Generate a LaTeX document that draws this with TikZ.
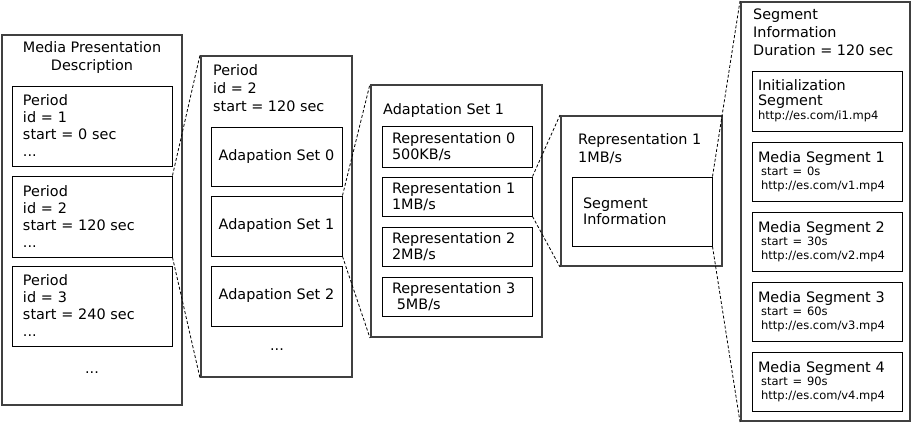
\documentclass[tikz,border=0pt]{standalone}
\usepackage{fontspec}
\setmainfont{DejaVu Sans}
\newcommand{\smallfnt}{\fontsize{11.5}{14}\selectfont}

\begin{document}
\begin{tikzpicture}[x=1pt,y=-1pt,
  font=\fontsize{14.4}{17}\selectfont,
  outer/.style={draw=black!75,line width=2pt,inner sep=0pt},
  boxwh/.style 2 args={minimum width=#1,minimum height=#2},
  inbox/.style 2 args={draw,line width=1pt,align=left,text width=#1,inner xsep=#2,inner ysep=0pt},
  title/.style={anchor=north west,inner sep=0pt,align=left,font=\fontsize{14.4}{18}\selectfont},
  link/.style={line width=0.8pt,dash pattern=on 3pt off 2pt}]
  \useasboundingbox (0,0) rectangle (912,423);

  % media presentation description
  \node[outer,boxwh={180}{370}] (mpd) at (92,220) {};
  \node[title,anchor=center,align=center] (mpdt) at (92,58) {Media Presentation\\Description};
  \node[inbox={138pt}{11pt},minimum height=80] (p1) at (92,126) {Period\\id = 1\\start = 0 sec\\...};
  \node[inbox={138pt}{11pt},minimum height=81] (p2) at (92,216.5) {Period\\id = 2\\start = 120 sec\\...};
  \node[inbox={138pt}{11pt},minimum height=80] (p3) at (92,306) {Period\\id = 3\\start = 240 sec\\...};
  \node (mpddots) at (92,373) {...};

  % period
  \node[outer,boxwh={151}{321}] (per) at (276.5,216.5) {};
  \node[title] (pert) at (213,64) {Period\\id = 2\\start = 120 sec};
  \node[inbox={117pt}{7pt},align=center,minimum height=59] (as0) at (276.5,156.5) {Adapation Set 0};
  \node[inbox={117pt}{7pt},align=center,minimum height=60] (as1) at (276.5,226) {Adapation Set 1};
  \node[inbox={117pt}{7pt},align=center,minimum height=60] (as2) at (276.5,296) {Adapation Set 2};
  \node (perdots) at (277,350) {...};

  % adaptation set
  \node[outer,boxwh={171}{252}] (aset) at (456.5,211) {};
  \node[title] (asett) at (383,103) {Adaptation Set 1};
  \node[inbox={130pt}{10pt},minimum height=41] (r0) at (457,146.5) {Representation 0\\[-1pt]500KB/s};
  \node[inbox={130pt}{10pt},minimum height=39] (r1) at (457,196.5) {Representation 1\\[-1pt]1MB/s};
  \node[inbox={130pt}{10pt},minimum height=39] (r2) at (457,246.5) {Representation 2\\[-1pt]2MB/s};
  \node[inbox={130pt}{10pt},minimum height=39] (r3) at (457,296.5) {Representation 3\\[-1pt]\ 5MB/s};

  % representation
  \node[outer,boxwh={161}{150}] (rep) at (641.5,191) {};
  \node[title] (rept) at (578,133) {Representation 1\\1MB/s};
  \node[inbox={118pt}{11pt},minimum height=69] (si) at (642,211.5) {Segment\\[-1pt]Information};

  % segment information
  \node[outer,boxwh={169}{419}] (seg) at (825.5,211.5) {};
  \node[title] (segt) at (753,9) {Segment\\Information\\Duration = 120 sec};
  \node[inbox={138pt}{6pt},minimum height=60] (init) at (827,101)
    {Initialization\\[-2pt]Segment\\[-3pt]{\smallfnt http://es.com/i1.mp4}};
  \node[inbox={138pt}{6pt},minimum height=59] (ms1) at (827,171.5)
    {Media Segment 1\\[-1pt]{\smallfnt\hspace*{3pt}start = 0s\\[-3pt]\hspace*{3pt}http://es.com/v1.mp4}};
  \node[inbox={138pt}{6pt},minimum height=59] (ms2) at (827,241.5)
    {Media Segment 2\\[-1pt]{\smallfnt\hspace*{3pt}start = 30s\\[-3pt]\hspace*{3pt}http://es.com/v2.mp4}};
  \node[inbox={138pt}{6pt},minimum height=59] (ms3) at (827,311.5)
    {Media Segment 3\\[-1pt]{\smallfnt\hspace*{3pt}start = 60s\\[-3pt]\hspace*{3pt}http://es.com/v3.mp4}};
  \node[inbox={138pt}{6pt},minimum height=59] (ms4) at (827,381.5)
    {Media Segment 4\\[-1pt]{\smallfnt\hspace*{3pt}start = 90s\\[-3pt]\hspace*{3pt}http://es.com/v4.mp4}};

  % zoom lines
  \draw[link] (p2.north east) -- (per.north west);
  \draw[link] (p2.south east) -- (per.south west);
  \draw[link] (as1.north east) -- (aset.north west);
  \draw[link] (as1.south east) -- (aset.south west);
  \draw[link] (r1.north east) -- (rep.north west);
  \draw[link] (r1.south east) -- (rep.south west);
  \draw[link] (si.north east) -- (seg.north west);
  \draw[link] (si.south east) -- (seg.south west);
\end{tikzpicture}
\end{document}
